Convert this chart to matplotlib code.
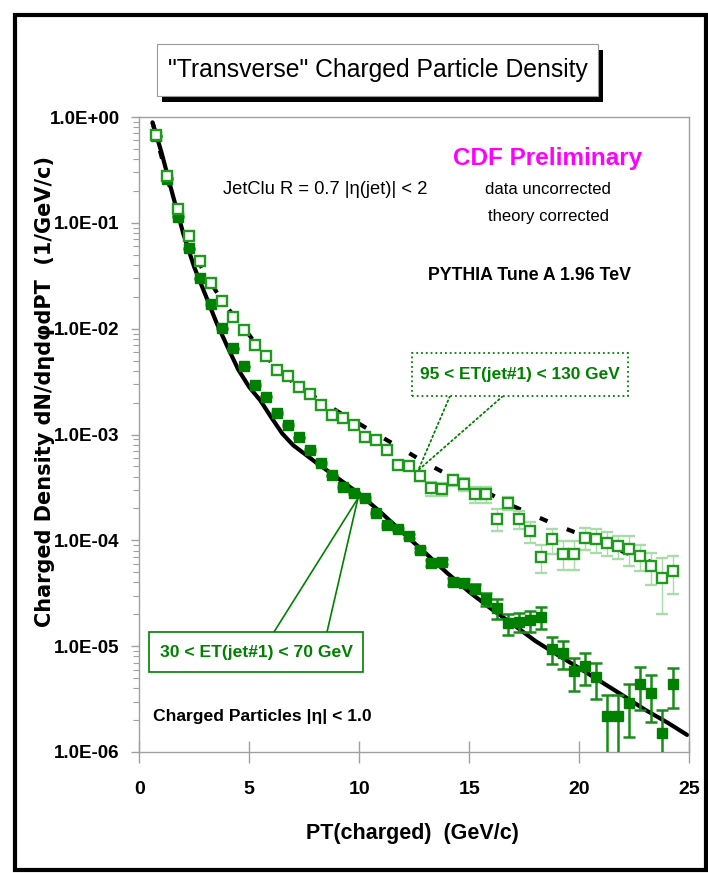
import numpy as np
import matplotlib
matplotlib.use("Agg")
import matplotlib.pyplot as plt
from matplotlib.patches import Rectangle
from matplotlib.ticker import FixedLocator, FuncFormatter, NullFormatter

# bin centres PT(charged) (GeV/c)
pt_bins = [0.75, 1.25, 1.75, 2.25, 2.75, 3.25, 3.75, 4.25, 4.75, 5.25,
           5.75, 6.25, 6.75, 7.25, 7.75, 8.25, 8.75, 9.25, 9.75, 10.25,
           10.75, 11.25, 11.75, 12.25, 12.75, 13.25, 13.75, 14.25, 14.75, 15.25,
           15.75, 16.25, 16.75, 17.25, 17.75, 18.25, 18.75, 19.25, 19.75, 20.25,
           20.75, 21.25, 21.75, 22.25, 22.75, 23.25, 23.75, 24.25]

# 95 < ET(jet#1) < 130 GeV (open squares)
hi_data = [0.68, 0.277, 0.134, 0.075, 0.0435, 0.0272, 0.0184, 0.0128, 0.0097, 0.0070,
           0.0055, 0.00406, 0.00356, 0.00279, 0.00241, 0.0019, 0.00152, 0.00142, 0.00123, 0.00095,
           0.00089, 0.00071, 0.00051, 0.00050, 0.000405, 0.00031, 0.000305, 0.00037, 0.00034, 0.000272,
           0.000272, 0.00016, 0.000226, 0.000159, 0.000122, 7.0e-5, 0.000102, 7.5e-5, 7.5e-5, 0.000106,
           0.000102, 9.5e-5, 8.8e-5, 8.3e-5, 7.1e-5, 5.7e-5, 4.4e-5, 5.1e-5]
hi_err = [0.01, 0.005, 0.002, 0.001, 0.0006, 0.0004, 0.0003, 0.0002, 0.00015, 0.00012,
          1e-4, 8e-5, 7e-5, 6e-5, 5e-5, 4.5e-5, 4e-5, 4e-5, 4e-5, 3.5e-5,
          3.5e-5, 3.5e-5, 4e-5, 4e-5, 4e-5, 4.5e-5, 4.5e-5, 4.5e-5, 4.5e-5, 4.5e-5,
          4.5e-5, 3.8e-5, 3.2e-5, 3e-5, 2.8e-5, 2.1e-5, 2.7e-5, 2.3e-5, 2.3e-5, 2.5e-5,
          2.6e-5, 2.4e-5, 2.2e-5, 2.6e-5, 2e-5, 1.9e-5, 2.4e-5, 2e-5]

# 30 < ET(jet#1) < 70 GeV (solid squares)
lo_data = [0.66, 0.26, 0.114, 0.0574, 0.0299, 0.0171, 0.0101, 0.00652, 0.00443, 0.00293,
           0.00227, 0.0016, 0.00123, 0.00094, 0.00071, 0.00054, 0.00041, 0.00032, 0.00028, 0.000249,
           0.000182, 0.000139, 0.000127, 0.00011, 8.1e-5, 6.1e-5, 6.3e-5, 4.06e-5, 3.98e-5, 3.5e-5,
           2.8e-5, 2.3e-5, 1.64e-5, 1.7e-5, 1.76e-5, 1.89e-5, 9.5e-6, 8.65e-6, 5.8e-6, 6.5e-6,
           5.1e-6, 2.2e-6, 2.2e-6, 2.9e-6, 4.4e-6, 3.6e-6, 1.5e-6, 4.4e-6]
lo_err = [0.005, 0.003, 0.0015, 0.0007, 0.0004, 0.0002, 0.00012, 8e-5, 5e-5, 4e-5,
          3e-5, 2.5e-5, 2e-5, 1.5e-5, 1.2e-5, 1e-5, 8e-6, 7e-6, 6e-6, 6e-6,
          5e-6, 5e-6, 5e-6, 4.5e-6, 4e-6, 3.5e-6, 3.5e-6, 3e-6, 3e-6, 3.5e-6,
          4e-6, 5e-6, 3.6e-6, 3.5e-6, 4e-6, 4.4e-6, 2.7e-6, 2.6e-6, 2.0e-6, 2.2e-6,
          1.9e-6, 1.25e-6, 1.25e-6, 1.5e-6, 1.9e-6, 1.7e-6, 1.0e-6, 1.8e-6]

# PYTHIA Tune A curves
th_lo_x = [0.6, 1.0, 1.5, 2.0, 2.5, 3.0, 3.5, 4.0, 4.5, 5.0, 5.5, 6.0, 6.5, 7.0, 7.5, 8.0,
           9.0, 10.0, 11.0, 12.0, 13.0, 14.0, 15.0, 16.0, 17.0, 18.0, 19.0, 20.0, 21.0,
           22.0, 23.0, 24.0, 24.9]
th_lo_y = [0.89, 0.47, 0.19, 0.079, 0.038, 0.021, 0.0115, 0.0068, 0.0041, 0.0028, 0.0021,
           0.00145, 0.00102, 0.00079, 0.00066, 0.00055, 0.00039, 0.000275, 0.000182, 0.000117,
           7.6e-5, 4.9e-5, 3.25e-5, 2.25e-5, 1.6e-5, 1.12e-5, 8.3e-6, 6.2e-6, 4.6e-6, 3.4e-6,
           2.5e-6, 1.9e-6, 1.45e-6]
th_hi_x = [0.6, 1.0, 1.5, 2.0, 2.5, 3.0, 3.5, 4.0, 4.5, 5.0, 5.5, 6.0, 6.5, 7.0, 7.5, 8.0,
           9.0, 10.0, 11.0, 12.0, 13.0, 14.0, 15.0, 16.0, 17.0, 18.0, 19.0, 20.0, 21.0,
           22.0, 23.0, 24.0, 24.4]
th_hi_y = [0.89, 0.43, 0.18, 0.085, 0.050, 0.033, 0.0224, 0.0158, 0.0117, 0.0087, 0.0063,
           0.0048, 0.0038, 0.0031, 0.0026, 0.00224, 0.00166, 0.00126, 0.00095, 0.00072,
           0.00054, 0.00042, 0.00033, 0.00027, 0.00021, 0.00017, 0.000138, 0.000115, 9.5e-5,
           7.8e-5, 6.5e-5, 5.6e-5, 5.2e-5]

y_ticks = [1e-6, 1e-5, 1e-4, 1e-3, 1e-2, 1e-1, 1.0]
x_ticks = [0, 5, 10, 15, 20, 25]

W, H = 708, 873
plt.rcParams["font.family"] = ["Liberation Sans", "DejaVu Sans"]

GREEN = "#008000"
OPEN_GREEN = "#1f9a1f"
GRAY = "#a0a0a0"


def fx(px):
    return px / W


def fy(py):
    return 1 - py / H


fig = plt.figure(figsize=(W / 100, H / 100), dpi=100)
ax = fig.add_axes([fx(139.3), fy(752), (689.3 - 139.3) / W, (752 - 117) / H])

ax.plot(th_lo_x, th_lo_y, color="black", lw=3, solid_capstyle="round", zorder=2)
ax.plot(th_hi_x, th_hi_y, color="black", lw=3, linestyle=(0, (2, 5)), zorder=2)

ax.errorbar(pt_bins, lo_data, yerr=lo_err, fmt="s", color=GREEN, ms=7.5,
            mfc=GREEN, mec=GREEN, ecolor="#1a8c1a", elinewidth=1.8, capsize=4,
            capthick=1.8, zorder=3)
ax.errorbar(pt_bins, hi_data, yerr=hi_err, fmt="s", ms=7.5, mfc="white",
            mec=OPEN_GREEN, mew=1.7, ecolor="#a8dca8", elinewidth=1, capsize=4,
            capthick=1, zorder=4)

ax.set_yscale("log")
ax.set_xlim(0, 25)
ax.set_ylim(1e-6, 1.0)

ax.xaxis.set_major_locator(FixedLocator(x_ticks))
ax.yaxis.set_major_locator(FixedLocator(y_ticks))
ax.yaxis.set_major_formatter(FuncFormatter(lambda v, p: "1.0E%+03d" % round(np.log10(v))))
ax.yaxis.set_minor_formatter(NullFormatter())
ax.tick_params(axis="x", which="major", direction="inout", length=16, width=1,
               color=GRAY, pad=13, labelsize=14)
ax.tick_params(axis="y", which="major", direction="out", length=6, width=1,
               color=GRAY, pad=8, labelsize=13.5)
ax.tick_params(axis="y", which="minor", direction="out", length=4, width=0.8, color=GRAY)
for lab in ax.get_xticklabels() + ax.get_yticklabels():
    lab.set_fontweight("bold")
for s in ax.spines.values():
    s.set_color(GRAY)
    s.set_linewidth(1)

ax.set_xlabel("PT(charged)  (GeV/c)", fontsize=15.5, fontweight="bold")
ax.xaxis.set_label_coords(0.496, -0.1276)
ax.xaxis.label.set_va("center")
ax.set_ylabel("Charged Density dN/d\u03b7d\u03c6dPT  (1/GeV/c)", fontsize=15,
              fontweight="bold", family=["DejaVu Sans"])
ax.yaxis.set_label_coords(-0.171, 0.567)
ax.yaxis.label.set_va("center")

# leaders to the curves
ax.annotate("", xy=(9.94, 2.5e-4), xycoords="data", xytext=(fx(274), fy(632)),
            textcoords="figure fraction",
            arrowprops=dict(arrowstyle="-", color=GREEN, lw=1.2, shrinkA=0, shrinkB=0))
ax.annotate("", xy=(9.94, 2.5e-4), xycoords="data", xytext=(fx(327), fy(632)),
            textcoords="figure fraction",
            arrowprops=dict(arrowstyle="-", color=GREEN, lw=1.2, shrinkA=0, shrinkB=0))
ax.annotate("", xy=(12.68, 4.6e-4), xycoords="data", xytext=(fx(450), fy(396)),
            textcoords="figure fraction",
            arrowprops=dict(arrowstyle="-", color=GREEN, lw=1.3, ls=":", shrinkA=0, shrinkB=0))
ax.annotate("", xy=(12.68, 4.6e-4), xycoords="data", xytext=(fx(503), fy(396)),
            textcoords="figure fraction",
            arrowprops=dict(arrowstyle="-", color=GREEN, lw=1.3, ls=":", shrinkA=0, shrinkB=0))


def box(x0, y0, x1, y1, **kw):
    r = Rectangle((fx(x0), fy(y1)), fx(x1) - fx(x0), fy(y0) - fy(y1),
                  transform=fig.transFigure, **kw)
    fig.add_artist(r)


# outer frame
box(15, 15, 706, 870, fill=False, edgecolor="black", lw=3)

# title with shadow
box(162, 50, 603, 102, facecolor="black", edgecolor="black", lw=0)
box(157, 44, 598, 96, facecolor="white", edgecolor="#999999", lw=0.8)
fig.text(fx(378), fy(70), "\"Transverse\" Charged Particle Density", fontsize=17.8,
         ha="center", va="center")

# labels on the curves
box(149, 632, 363, 672, facecolor="white", edgecolor=GREEN, lw=1.2)
fig.text(fx(256), fy(652), "30 < ET(jet#1) < 70 GeV", fontsize=12.6, fontweight="bold",
         color=GREEN, ha="center", va="center")
box(412, 353, 628, 396, facecolor="white", edgecolor=GREEN, lw=1.3, ls=":")
fig.text(fx(520), fy(375), "95 < ET(jet#1) < 130 GeV", fontsize=12.4, fontweight="bold",
         color=GREEN, ha="center", va="center")

fig.text(fx(325), fy(190), "JetClu R = 0.7 |\u03b7(jet)| < 2", fontsize=13.2,
         ha="center", va="center")
fig.text(fx(548), fy(158), "CDF Preliminary", fontsize=17.5, fontweight="bold",
         color="#ff00ff", ha="center", va="center")
fig.text(fx(548), fy(190), "data uncorrected", fontsize=12, ha="center", va="center")
fig.text(fx(548), fy(217), "theory corrected", fontsize=12, ha="center", va="center")
fig.text(fx(530), fy(275), "PYTHIA Tune A 1.96 TeV", fontsize=12.8, fontweight="bold",
         ha="center", va="center")
fig.text(fx(262), fy(717), "Charged Particles |\u03b7| < 1.0", fontsize=12.6,
         fontweight="bold", ha="center", va="center")

fig.savefig("out.png", dpi=100)
